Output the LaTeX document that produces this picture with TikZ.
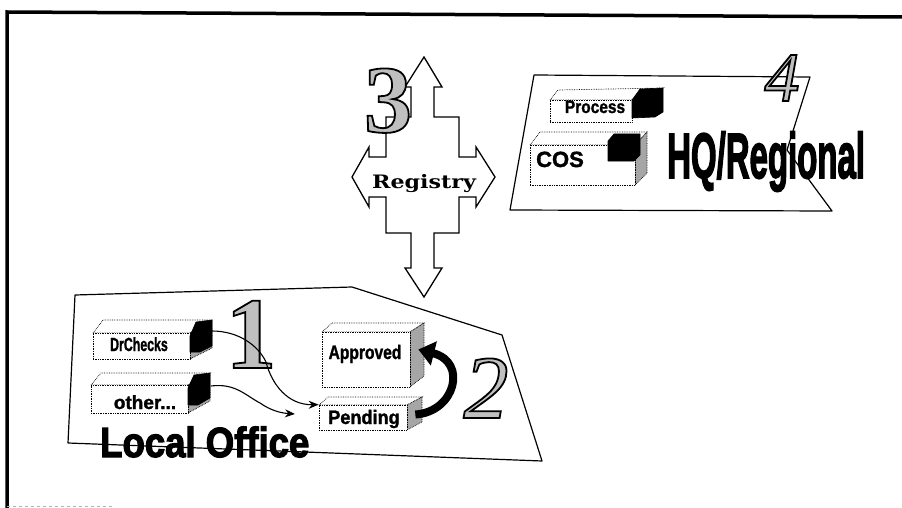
\documentclass[tikz,border=0pt]{standalone}
\usepackage{fontspec}
\setmainfont{Liberation Serif}
\newfontfamily\lsans[FakeBold=1.5]{Liberation Sans}
\newfontfamily\heavysans[FakeBold=3]{Liberation Sans}
\newfontfamily\dserif{DejaVu Serif}
\usetikzlibrary{arrows.meta}
\tikzset{
 panel/.style={draw=black, line width=1.2pt, line join=round},
 face/.style={draw=black, densely dotted, line width=0.7pt, fill=white},
 frontface/.style={face, inner sep=0pt},
 sideface/.style={draw=black, densely dotted, line width=0.7pt, fill=black!35},
 plug/.style={fill=black, draw=black, line width=0.6pt, line join=round},
 lbl/.style={inner sep=0pt, anchor=base, font=\lsans\bfseries},
 digit/.style={inner sep=0pt, anchor=base, text=black!25},
 conn/.style={line width=1.1pt, -{Stealth[length=10pt,width=8pt]}},
}
\newcommand\hollowdigit[4]{%
 \node[digit] (#1) at (#2) {\special{pdf:literal direct 0 0 0 RG 1.8 w 2 Tr}#3#4\special{pdf:literal direct 0 Tr}};}
\begin{document}
\begin{tikzpicture}[x=1pt,y=-1pt]
\useasboundingbox (0,0) rectangle (902,508);
% frame
\draw[line width=3.5pt] (7,508) -- (7,12) -- (902,17);
\draw[gray!60, line width=0.8pt, dashed] (7,506) -- (115,506);

% panels
\draw[panel] (75,295) -- (352,287) -- (502,335) -- (542,461) -- (68,443) -- cycle;
\draw[panel] (534,75) -- (810,77) -- (787,150) -- (832,211) -- (510,210) -- cycle;

% registry cross
\draw[fill=white, line width=1.3pt, line join=miter]
 (424,57) -- (442,87) -- (434,87) -- (434,117) -- (459,117) -- (459,157) -- (476,157) -- (476,147)
 -- (495,177) -- (476,207) -- (476,197) -- (459,197) -- (459,233) -- (434,233) -- (434,268)
 -- (442,268) -- (424,297) -- (405,268) -- (411,268) -- (411,233) -- (386,233) -- (386,197)
 -- (369,197) -- (369,207) -- (352,177) -- (369,147) -- (369,157) -- (386,157) -- (386,117)
 -- (411,117) -- (411,87) -- (405,87) -- cycle;
\node[inner sep=0pt, anchor=base] (reg) at (424,188)
 {\scalebox{1.2}[1]{\fontsize{18.5}{19}\selectfont\dserif\bfseries Registry}};

% DrChecks box
\draw[face] (93,333) -- (103,320) -- (212,320) -- (190,333) -- cycle;
\draw[sideface] (190,333) -- (212,320) -- (212,348) -- (190,359) -- cycle;
\node[frontface, minimum width=97pt, minimum height=26pt] (drc) at (141.5,346) {};
\draw[plug] (190,336) -- (196,322) -- (212,320) -- (212,346) -- (200,352) -- (190,352) -- cycle;
\node[lbl] (drct) at (139,351) {\scalebox{0.65}[1]{\fontsize{19}{19}\selectfont DrChecks}};

% other box
\draw[face] (91,385) -- (101,373) -- (210,373) -- (188,385) -- cycle;
\draw[sideface] (188,385) -- (210,373) -- (210,401) -- (188,413) -- cycle;
\node[frontface, minimum width=97pt, minimum height=28pt] (oth) at (139.5,399) {};
\draw[plug] (188,388) -- (194,375) -- (210,373) -- (210,398) -- (198,405) -- (188,405) -- cycle;
\node[lbl] (otht) at (145,409) {\fontsize{19}{19}\selectfont other...};

% Approved box
\draw[face] (322,332) -- (332,323) -- (424,323) -- (410,332) -- cycle;
\draw[sideface] (410,332) -- (424,323) -- (424,376) -- (410,387) -- cycle;
\node[frontface, minimum width=88pt, minimum height=55pt] (appr) at (366,359.5) {};
\node[lbl] (apprt) at (365,359) {\scalebox{0.8}[1]{\fontsize{19.5}{19.5}\selectfont Approved}};

% Pending box
\draw[face] (319,405) -- (328,397) -- (422,397) -- (407,405) -- cycle;
\draw[sideface] (407,405) -- (422,397) -- (422,422) -- (407,430) -- cycle;
\node[frontface, minimum width=88pt, minimum height=25pt] (pend) at (363,417.5) {};
\node[lbl] (pendt) at (364,424) {\scalebox{0.93}[1]{\fontsize{19.5}{19.5}\selectfont Pending}};

% Process box
\draw[face] (550,100) -- (558,90) -- (663,88) -- (632,100) -- cycle;
\node[frontface, minimum width=82pt, minimum height=22pt] (proc) at (591,111) {};
\draw[plug] (632,100) -- (640,89) -- (663,88) -- (663,112) -- (655,117) -- (632,118) -- cycle;
\node[lbl] (proct) at (595,113) {\scalebox{0.86}[1]{\fontsize{18}{18}\selectfont Process}};

% COS box
\draw[face] (530,145) -- (540,132) -- (647,132) -- (635,145) -- cycle;
\draw[sideface] (635,145) -- (647,132) -- (647,173) -- (635,185) -- cycle;
\node[frontface, minimum width=105pt, minimum height=40pt] (cos) at (582.5,165) {};
\draw[plug] (608,141) -- (614,134) -- (640,134) -- (640,155) -- (634,161) -- (608,161) -- cycle;
\node[lbl] (cost) at (560,167) {\fontsize{22}{22}\selectfont COS};

% big titles
\node[inner sep=0pt, anchor=base west] (hq) at (667,178)
 {\scalebox{0.515}[1]{\fontsize{64}{64}\selectfont\heavysans\bfseries HQ/Regional}};
\node[inner sep=0pt, anchor=base west] (lo) at (100,457)
 {\scalebox{0.87}[1]{\fontsize{42}{42}\selectfont\heavysans\bfseries Local Office}};

% digits
\hollowdigit{dthree}{388,132}{\fontsize{96}{96}\selectfont\bfseries}{3}
\hollowdigit{done}{251,368}{\fontsize{102}{102}\selectfont\bfseries}{1}
\hollowdigit{dtwo}{486,418}{\fontsize{90}{90}\selectfont\itshape}{2}
\hollowdigit{dfour}{782,101}{\fontsize{70}{70}\selectfont\itshape}{4}

% connectors
\coordinate (drcplug) at (212,331);
\coordinate (othplug) at (211,386);
\coordinate (oend) at (295,414);
\draw[conn] (drcplug) .. controls (238,331) and (258,345) .. (266,362)
 .. controls (272,385) and (288,405) .. (pend.north west);
\draw[conn] (othplug) .. controls (235,383) and (245,395) .. (260,403)
 .. controls (270,410) and (280,413) .. (oend);
\draw[line width=8pt, -{Triangle[length=16pt,width=24pt]}]
 ([shift={(8,-3)}]pend.east) .. controls (455,412) and (468,362) .. ([shift={(8,-10)}]appr.east);
\end{tikzpicture}
\end{document}
